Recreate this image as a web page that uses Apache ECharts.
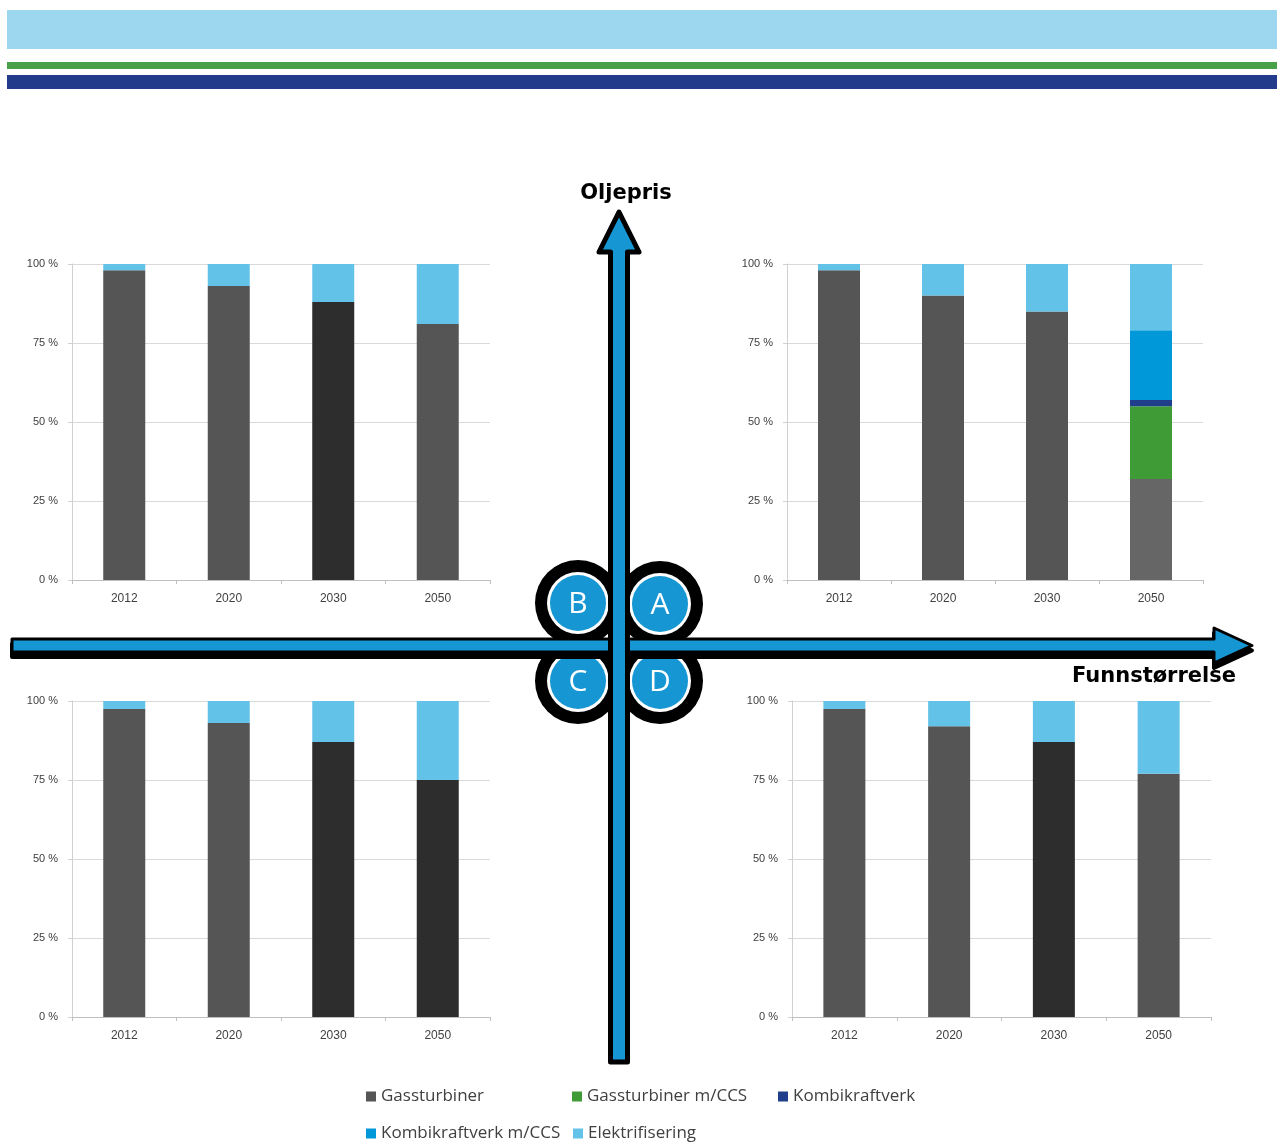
<!DOCTYPE html>
<html>
<head>
<meta charset="utf-8">
<script src="https://cdn.jsdelivr.net/npm/echarts@6/dist/echarts.min.js"></script>
<style>
  html, body { margin: 0; padding: 0; background: #fff; }
  #main { width: 1277px; height: 1142px; }
</style>
</head>
<body>
<div id="main"></div>
<script>
const years = ['2012', '2020', '2030', '2050'];
const seriesNames = ['Gassturbiner', 'Gassturbiner m/CCS', 'Kombikraftverk', 'Kombikraftverk m/CCS', 'Elektrifisering'];

// Scenario A (top right)
const gassA = [98, 90, 85, 32];
const gassCcsA = [0, 0, 0, 23];
const kombiA = [0, 0, 0, 2];
const kombiCcsA = [0, 0, 0, 22];
const elektA = [2, 10, 15, 21];

// Scenario B (top left)
const gassB = [98, 93, 88, 81];
const elektB = [2, 7, 12, 19];

// Scenario C (bottom left)
const gassC = [97.5, 93, 87, 75];
const elektC = [2.5, 7, 13, 25];

// Scenario D (bottom right)
const gassD = [97.5, 92, 87, 77];
const elektD = [2.5, 8, 13, 23];

const colors = ['#555555', '#3f9b35', '#1f3e8c', '#0098d8', '#62c2e8'];
const blue = '#1696d2';

const panels = [
  { grid: { left: 72, top: 264, width: 418, height: 316 },
    values: [gassB, null, null, null, elektB],
    gasShade: ['#555555', '#555555', '#2d2d2d', '#555555'] },
  { grid: { left: 787, top: 264, width: 416, height: 316 },
    values: [gassA, gassCcsA, kombiA, kombiCcsA, elektA],
    gasShade: ['#555555', '#555555', '#555555', '#666666'] },
  { grid: { left: 72, top: 701, width: 418, height: 316 },
    values: [gassC, null, null, null, elektC],
    gasShade: ['#555555', '#555555', '#2d2d2d', '#2d2d2d'] },
  { grid: { left: 792, top: 701, width: 419, height: 316 },
    values: [gassD, null, null, null, elektD],
    gasShade: ['#555555', '#555555', '#2d2d2d', '#555555'] }
];

const chart = echarts.init(document.getElementById('main'));

const series = [];
panels.forEach((p, gi) => {
  seriesNames.forEach((name, si) => {
    const vals = p.values[si];
    if (!vals) return;
    series.push({
      type: 'bar',
      name: name,
      stack: 'p' + gi,
      xAxisIndex: gi,
      yAxisIndex: gi,
      barWidth: 42,
      itemStyle: { color: colors[si] },
      data: vals.map((v, i) => si === 0 ? { value: v, itemStyle: { color: p.gasShade[i] } } : v)
    });
  });
});

const legendPos = [[366, 1088], [572, 1088], [778, 1088], [366, 1125], [573, 1125]];
const legends = seriesNames.map((name, i) => ({
  left: legendPos[i][0],
  top: legendPos[i][1],
  padding: 0,
  icon: 'rect',
  itemWidth: 10,
  itemHeight: 10,
  itemGap: 5,
  data: [name],
  textStyle: { fontSize: 17, color: '#404040', fontFamily: 'Open Sans' }
}));

// center figure: quadrant circles + arrows
const circles = [['B', 578, 603], ['A', 660, 604], ['C', 578, 681], ['D', 660, 681]];
const graphics = [
  { type: 'rect', shape: { x: 7, y: 10, width: 1270, height: 39 }, style: { fill: '#9dd6ef' } },
  { type: 'rect', shape: { x: 7, y: 62, width: 1270, height: 7 }, style: { fill: '#48a048' } },
  { type: 'rect', shape: { x: 7, y: 75, width: 1270, height: 14 }, style: { fill: '#233b8b' } }
];
circles.forEach(([label, cx, cy]) => {
  graphics.push({ type: 'circle', shape: { cx, cy, r: 43 }, style: { fill: '#000' } });
  graphics.push({ type: 'circle', shape: { cx, cy, r: 31 }, style: { fill: '#fff' } });
  graphics.push({ type: 'circle', shape: { cx, cy, r: 28 }, style: { fill: blue } });
  graphics.push({ type: 'text', x: cx, y: cy + 1, style: {
    text: label, fill: '#fff', font: '30px "Open Sans"', align: 'center', verticalAlign: 'middle' } });
});
// horizontal arrow (shadow then body)
const hArrow = [[12, 639], [1214, 639], [1214, 628], [1252, 645.5], [1214, 663], [1214, 652], [12, 652]];
graphics.push({ type: 'polygon', shape: { points: hArrow.map(([x, y]) => [x, y + 5]) },
  style: { fill: '#000', stroke: '#000', lineWidth: 4, lineJoin: 'round' } });
graphics.push({ type: 'polygon', shape: { points: hArrow },
  style: { fill: blue, stroke: '#000', lineWidth: 3, lineJoin: 'round' } });
// vertical arrow
const vArrow = [[610.5, 1062], [610.5, 252], [599, 252], [619, 212], [639, 252], [627.5, 252], [627.5, 1062]];
graphics.push({ type: 'polygon', shape: { points: vArrow },
  style: { fill: blue, stroke: '#000', lineWidth: 5, lineJoin: 'round' } });
graphics.push({ type: 'text', x: 626, y: 194, style: {
  text: 'Oljepris', fill: '#000', font: 'bold 21px "DejaVu Sans"', align: 'center', verticalAlign: 'middle' } });
graphics.push({ type: 'text', x: 1154, y: 677, style: {
  text: 'Funnstørrelse', fill: '#000', font: 'bold 21px "DejaVu Sans"', align: 'center', verticalAlign: 'middle' } });

chart.setOption({
  animation: false,
  backgroundColor: '#fff',
  grid: panels.map(p => p.grid),
  xAxis: panels.map((p, i) => ({
    type: 'category',
    gridIndex: i,
    data: years,
    axisLine: { lineStyle: { color: '#bfbfbf' } },
    axisTick: { show: true, length: 4, lineStyle: { color: '#bfbfbf' } },
    axisLabel: { fontSize: 12, color: '#404040', margin: 13, fontFamily: 'Liberation Sans' }
  })),
  yAxis: panels.map((p, i) => ({
    type: 'value',
    gridIndex: i,
    min: 0,
    max: 100,
    interval: 25,
    axisLine: { show: true, lineStyle: { color: '#d0d0d0' } },
    axisTick: { show: true, length: 4, lineStyle: { color: '#d0d0d0' } },
    splitLine: { lineStyle: { color: '#d9d9d9' } },
    axisLabel: { formatter: '{value} %', fontSize: 11, color: '#404040', margin: 14, fontFamily: 'Liberation Sans' }
  })),
  legend: legends,
  series: series,
  graphic: graphics
});
</script>
</body>
</html>
